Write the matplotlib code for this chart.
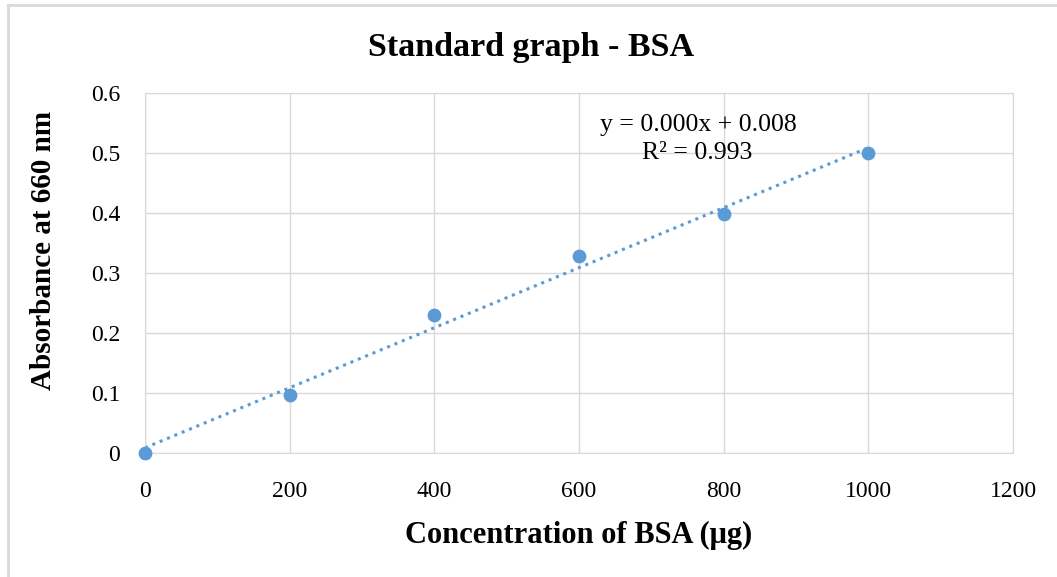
import matplotlib
matplotlib.use("Agg")
import matplotlib.pyplot as plt
import numpy as np

# BSA standard curve readings
concentration = [0, 200, 400, 600, 800, 1000]
absorbance = [0.0, 0.097, 0.23, 0.328, 0.398, 0.5]

x_ticks = [0, 200, 400, 600, 800, 1000, 1200]
y_ticks = [0, 0.1, 0.2, 0.3, 0.4, 0.5, 0.6]
y_tick_labels = ["0", "0.1", "0.2", "0.3", "0.4", "0.5", "0.6"]

plt.rcParams['font.family'] = ['Liberation Serif', 'DejaVu Serif']

fig = plt.figure(figsize=(10.57, 5.77), dpi=100)
ax = fig.add_axes([0.1372, 0.2149, 0.8212, 0.6239])

# outer chart frame (only top and left visible in the reference)
fig.add_artist(plt.Line2D([8 / 1057, 8 / 1057], [0, 1 - 5 / 577],
                          transform=fig.transFigure, color="#d9d9d9", lw=2))
fig.add_artist(plt.Line2D([8 / 1057, 1], [1 - 5 / 577, 1 - 5 / 577],
                          transform=fig.transFigure, color="#d9d9d9", lw=2))

color = "#5b9bd5"

# linear trendline
slope, intercept = np.polyfit(concentration, absorbance, 1)
fit_x = np.array([concentration[0], concentration[-1]])
ax.plot(fit_x, slope * fit_x + intercept, linestyle=(0, (1, 1.6)),
        color=color, lw=2.2, zorder=2)

ax.scatter(concentration, absorbance, s=80, color=color, zorder=3,
           clip_on=False)

ax.set_xlim(0, 1200)
ax.set_ylim(0, 0.6)
ax.set_xticks(x_ticks)
ax.set_yticks(y_ticks)
ax.set_yticklabels(y_tick_labels)
ax.tick_params(length=0, labelsize=17)
ax.tick_params(axis="y", pad=18)
ax.tick_params(axis="x", pad=20)
ax.grid(True, color="#d9d9d9", lw=1)
ax.set_axisbelow(True)
for side in ax.spines.values():
    side.set_color("#d9d9d9")

ax.set_xlabel("Concentration of BSA (μg)", fontsize=22, fontweight="bold",
              labelpad=14)
ax.set_ylabel("Absorbance at 660 nm", fontsize=21, fontweight="bold")
ax.yaxis.set_label_coords(-0.101, 0.564)
fig.text(0.502, 0.918, "Standard graph - BSA", fontsize=24.5,
         fontweight="bold", ha="center", va="center")

ax.text(765, 0.546, "y = 0.000x + 0.008", fontsize=18.5, ha="center",
        va="center")
ax.text(763, 0.5, "R² = 0.993", fontsize=18.5, ha="center", va="center")

fig.savefig("out.png", dpi=100)
